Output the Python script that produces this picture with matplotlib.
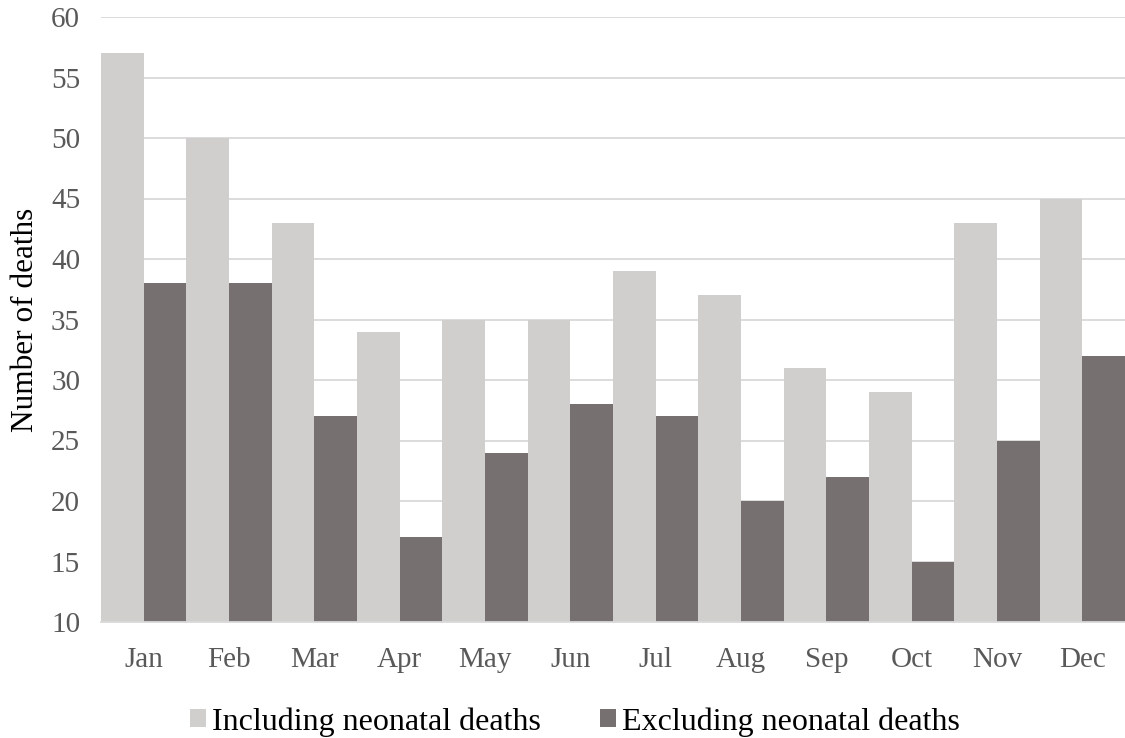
import matplotlib.pyplot as plt
import numpy as np

plt.rcParams['font.family'] = ['Liberation Serif', 'DejaVu Serif']

# monthly deaths
months = ['Jan', 'Feb', 'Mar', 'Apr', 'May', 'Jun',
          'Jul', 'Aug', 'Sep', 'Oct', 'Nov', 'Dec']
including = [57, 50, 43, 34, 35, 35, 39, 37, 31, 29, 43, 45]
excluding = [38, 38, 27, 17, 24, 28, 27, 20, 22, 15, 25, 32]

light = '#d0cfce'
dark = '#767170'

fig = plt.figure(figsize=(11.25, 7.38), dpi=100)
ax = fig.add_axes([101 / 1125, 1 - 622 / 738, 1024 / 1125, 605 / 738])

x = np.arange(len(months))
w = 0.5
ax.bar(x - w / 2, including, w, color=light, label='Including neonatal deaths', zorder=2)
ax.bar(x + w / 2, excluding, w, color=dark, label='Excluding neonatal deaths', zorder=2)

ax.set_xlim(-0.5, len(months) - 0.5)
ax.set_ylim(10, 60)
ax.set_yticks(range(10, 61, 5))
ax.set_xticks(x)
ax.set_xticklabels(months)
ax.grid(axis='y', color='#d9d9d9', linewidth=1.3, zorder=0)

for s in ['top', 'right', 'left']:
    ax.spines[s].set_visible(False)
ax.spines['bottom'].set_color('#d9d9d9')
ax.spines['bottom'].set_linewidth(1.3)
ax.spines['bottom'].set_zorder(3)

ax.tick_params(axis='both', length=0, labelsize=21, labelcolor='#595959')
ax.tick_params(axis='x', pad=18)
ax.tick_params(axis='y', pad=15)
ax.set_ylabel('Number of deaths', fontsize=22.5, labelpad=8)

fig.legend(loc='lower center', bbox_to_anchor=(0.511, -0.037), ncol=2, frameon=False,
           fontsize=23, handlelength=0.5, handleheight=0.5, handletextpad=0.2,
           columnspacing=1.85)

fig.savefig('out.png', dpi=100)
